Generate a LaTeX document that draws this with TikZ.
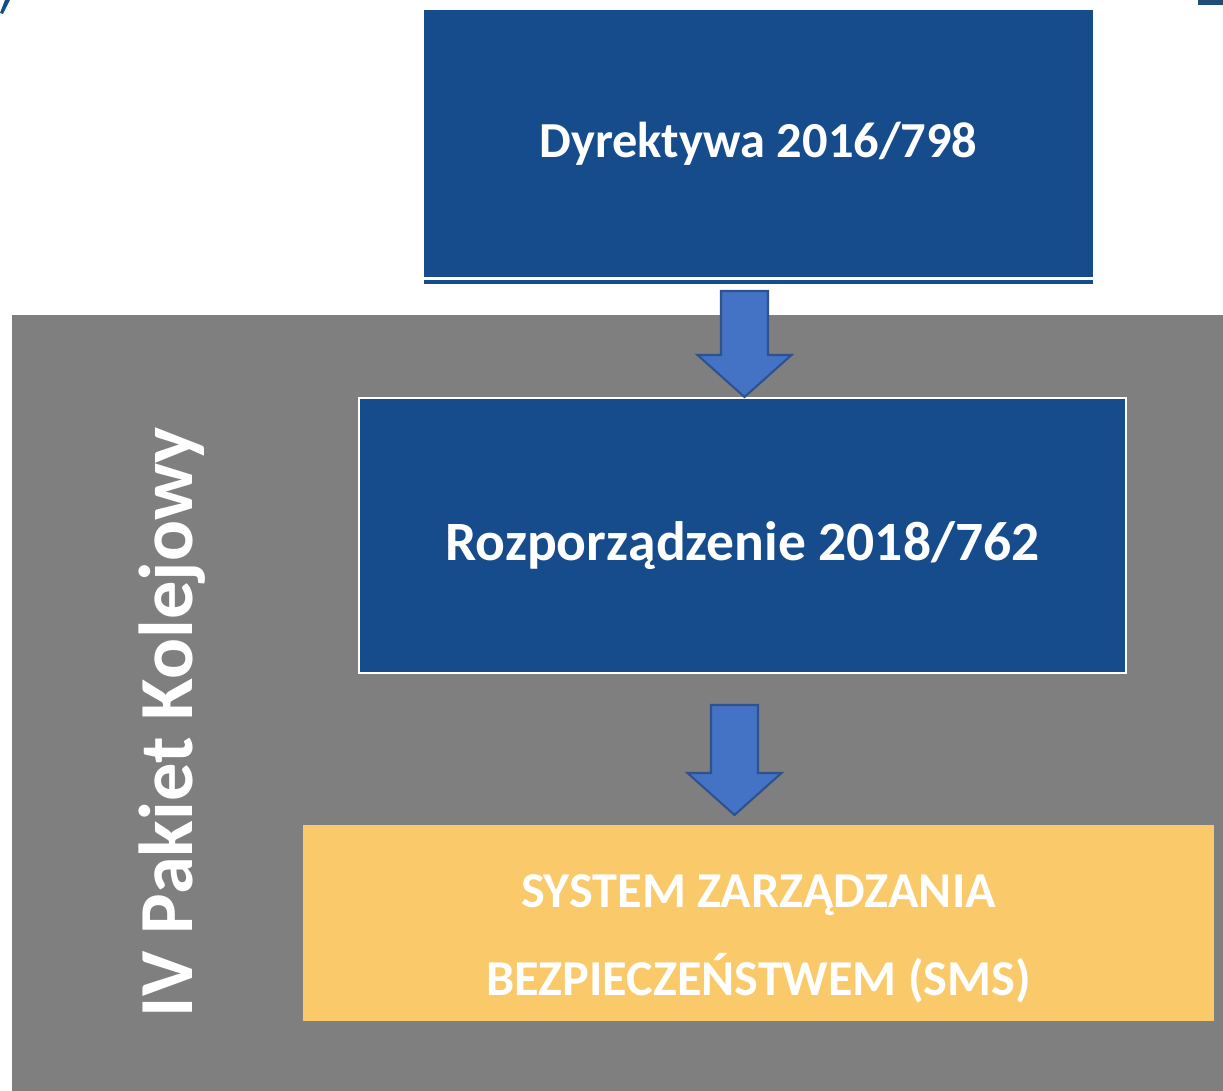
\documentclass[tikz,border=0pt]{standalone}
\usepackage{fontspec}
\setmainfont{Carlito}
\definecolor{dirblue}{RGB}{23,76,140}
\definecolor{pakietgray}{RGB}{127,127,127}
\definecolor{smsyellow}{RGB}{249,201,106}
\definecolor{arrowblue}{RGB}{68,114,196}
\definecolor{arrowedge}{RGB}{47,82,143}
\definecolor{cornerblue}{RGB}{31,78,121}
\begin{document}
\begin{tikzpicture}
[x=0.02cm,y=-0.02cm,
  boxdecorate/.style={shape=rectangle,fill=dirblue,inner sep=0pt},
  textdecorate/.style={text=white,align=center,inner sep=0pt},
  arrowdecorate/.style={fill=arrowblue,draw=arrowedge,line width=1.2pt,line join=miter}]
\useasboundingbox (0,0) rectangle (1223,1091);
%% stray bits of neighbouring shapes
\fill[dirblue] (0,13) -- (5,0) -- (10,0) -- (3,14) -- cycle;
\fill[cornerblue] (1198,0) rectangle (1223,5);
%% background block
\node (pakiet) at (617.5,703) [shape=rectangle,fill=pakietgray,inner sep=0pt,
  minimum width=24.22cm,minimum height=15.52cm] {};
\node (pakietlabel) at (172,722) [rotate=90,textdecorate,
  font=\bfseries\fontsize{43.5}{50}\selectfont] {IV Pakiet Kolejowy};
%% boxes
\node (dyrektywa) at (758.5,143.5) [boxdecorate,minimum width=13.38cm,minimum height=5.34cm] {};
\node (dyrektywatext) at (dyrektywa.center) [textdecorate,
  font=\bfseries\fontsize{28.7}{34}\selectfont] {Dyrektywa 2016/798};
\fill[dirblue] (424,280) rectangle (1093,283.5);
\node (rozporzadzenie) at (742.5,535.5) [boxdecorate,draw=white,line width=1.2pt,
  minimum width=15.34cm,minimum height=5.5cm] {};
\node (rozporzadzenietext) at ([yshift=-0.2cm]rozporzadzenie.center) [textdecorate,
  font=\bfseries\fontsize{31.6}{38}\selectfont] {Rozporządzenie 2018/762};
\node (sms) at (758.5,923) [boxdecorate,fill=smsyellow,minimum width=18.22cm,minimum height=3.92cm] {};
\node (smstext) at ([yshift=-0.32cm]sms.center) [textdecorate,
  font=\bfseries\fontsize{28.6}{50}\selectfont] {SYSTEM ZARZĄDZANIA\\BEZPIECZEŃSTWEM (SMS)};
%% block arrows
\foreach \cx/\ytop/\ytip in {744.5/291/397, 734.5/705/815} {
  \draw[arrowdecorate] ({\cx-23.5},\ytop) -- ({\cx+23.5},\ytop) -- ({\cx+23.5},{\ytip-42})
    -- ({\cx+47},{\ytip-42}) -- (\cx,\ytip) -- ({\cx-47},{\ytip-42})
    -- ({\cx-23.5},{\ytip-42}) -- cycle;
}
\end{tikzpicture}
\end{document}
